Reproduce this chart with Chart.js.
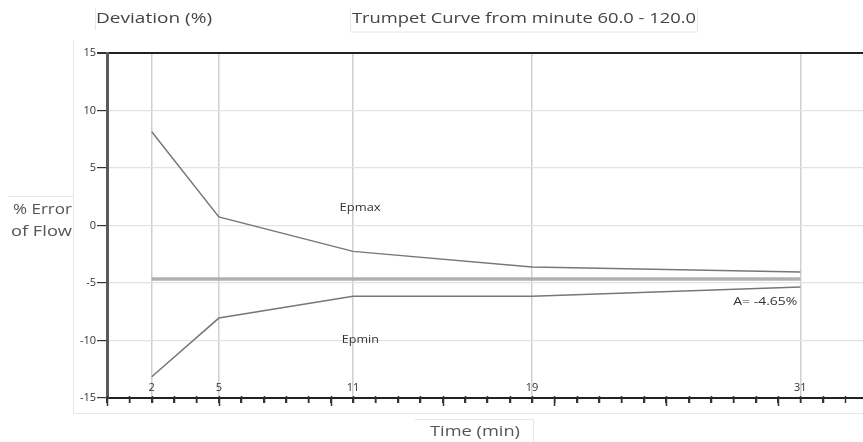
<!DOCTYPE html>
<html>
<head>
<meta charset="utf-8">
<script src="https://cdn.jsdelivr.net/npm/chart.js@4.4.0/dist/chart.umd.min.js"></script>
<style>
  html, body { margin: 0; padding: 0; background: #fff; }
  #wrap { width: 863px; height: 442px; position: relative; }
</style>
</head>
<body>
<div id="wrap"><canvas id="trumpet" width="863" height="442"></canvas></div>
<script>
// data
const times = [2, 5, 11, 19, 31];
const epMax = [8.15, 0.75, -2.25, -3.6, -4.05];
const epMin = [-13.15, -8.05, -6.15, -6.15, -5.35];
const avgError = -4.65;
const yTicks = [-15, -10, -5, 0, 5, 10, 15];

const FONT = "'Open Sans', 'DejaVu Sans', sans-serif";

function pts(xs, ys) {
    return xs.map((x, i) => ({ x: x, y: ys[i] }));
}

// draws text squeezed to a given width (reference font is a condensed one)
function fitText(ctx, txt, left, midY, width, size, color) {
    ctx.save();
    ctx.font = size + 'px ' + FONT;
    ctx.fillStyle = color || '#444';
    ctx.textBaseline = 'middle';
    ctx.textAlign = 'left';
    const w = ctx.measureText(txt).width;
    ctx.translate(left, midY);
    ctx.scale(width / w, 1);
    ctx.fillText(txt, 0, 0);
    ctx.restore();
}

const decorations = {
    id: 'decorations',
    beforeDraw(chart) {
        const ctx = chart.ctx;
        ctx.save();
        ctx.strokeStyle = '#e6e6e6';
        ctx.lineWidth = 1;
        // faint frames from the original widget layout
        ctx.beginPath();
        ctx.moveTo(73.5, 40); ctx.lineTo(73.5, 413.5); ctx.lineTo(863, 413.5);
        ctx.moveTo(8, 196.5); ctx.lineTo(73.5, 196.5);
        ctx.moveTo(95.5, 8); ctx.lineTo(95.5, 30);
        ctx.moveTo(350.5, 8); ctx.lineTo(350.5, 32); ctx.lineTo(697.5, 32); ctx.lineTo(697.5, 8);
        ctx.moveTo(415, 419.5); ctx.lineTo(533.5, 419.5); ctx.lineTo(533.5, 442);
        ctx.stroke();
        ctx.restore();
    },
    afterDraw(chart) {
        const ctx = chart.ctx;
        const xs = chart.scales.x, ys = chart.scales.y;
        fitText(ctx, 'Deviation (%)', 96, 19, 116, 15, '#444');
        fitText(ctx, 'Trumpet Curve from minute 60.0 - 120.0', 352, 19, 344, 15, '#444');
        fitText(ctx, '% Error', 13, 210, 59, 15, '#555');
        fitText(ctx, 'of Flow', 11, 232, 61, 15, '#555');
        fitText(ctx, 'Time (min)', 430, 432, 90, 15, '#555');

        // curve labels, positioned from the data scales
        fitText(ctx, 'Epmax', xs.getPixelForValue(10.4), ys.getPixelForValue(1.5), 41, 10, '#333');
        fitText(ctx, 'Epmin', xs.getPixelForValue(10.5), ys.getPixelForValue(-10), 37, 10, '#333');
        fitText(ctx, 'A= -4.65%', xs.getPixelForValue(28.0), ys.getPixelForValue(-6.7), 64, 10, '#333');

        // small ticks cross the axis slightly; taller ones every 5 minutes
        ctx.save();
        ctx.strokeStyle = '#333';
        ctx.lineWidth = 1.5;
        ctx.beginPath();
        for (let v = 0; v <= xs.max; v += 1) {
            const px = Math.round(xs.getPixelForValue(v)) + 0.5;
            ctx.moveTo(px, ys.bottom - 2);
            ctx.lineTo(px, ys.bottom + (v % 5 === 0 ? 8 : 5));
        }
        ctx.stroke();
        ctx.restore();
    }
};

new Chart(document.getElementById('trumpet'), {
    type: 'line',
    data: {
        datasets: [
            {
                label: 'A',
                data: [{ x: times[0], y: avgError }, { x: times[times.length - 1], y: avgError }],
                borderColor: '#b0b0b0',
                borderWidth: 3.5
            },
            {
                label: 'Epmax',
                data: pts(times, epMax),
                borderColor: '#777',
                borderWidth: 1.5
            },
            {
                label: 'Epmin',
                data: pts(times, epMin),
                borderColor: '#777',
                borderWidth: 1.5
            }
        ]
    },
    options: {
        responsive: false,
        animation: false,
        events: [],
        elements: { point: { radius: 0 }, line: { tension: 0 } },
        layout: { padding: { left: 67, right: 0, top: 53, bottom: 24 } },
        plugins: {
            legend: { display: false },
            tooltip: { enabled: false },
            title: { display: false }
        },
        scales: {
            x: {
                type: 'linear',
                min: 0,
                max: 33.8,
                afterFit: s => { s.height = 20; },
                afterBuildTicks: s => {
                    s.ticks = s.ticks.filter(t => Number.isInteger(t.value));
                },
                border: { display: true, color: '#222', width: 2 },
                grid: {
                    color: c => times.includes(c.tick && c.tick.value) ? '#cfcfcf' : 'rgba(0,0,0,0)',
                    lineWidth: 1.5,
                    tickColor: '#333',
                    tickLength: 5,
                    drawTicks: true
                },
                ticks: {
                    stepSize: 1,
                    autoSkip: false,
                    maxRotation: 0,
                    mirror: true,
                    padding: 4,
                    color: '#333',
                    font: { family: FONT, size: 11 },
                    callback: v => times.includes(v) ? String(v) : ''
                }
            },
            y: {
                type: 'linear',
                min: -15,
                max: 15,
                afterFit: s => { s.width = 40; },
                afterBuildTicks: s => {
                    s.ticks = yTicks.map(v => ({ value: v }));
                },
                border: { display: true, color: '#5a5a5a', width: 3 },
                grid: {
                    color: c => {
                        const v = c.tick && c.tick.value;
                        if (v === 15) return '#222';
                        if (v === -15) return 'rgba(0,0,0,0)';
                        return '#e2e2e2';
                    },
                    lineWidth: c => (c.tick && c.tick.value === 15) ? 2 : 1.2,
                    tickColor: '#333',
                    tickLength: 10
                },
                ticks: {
                    padding: 1,
                    color: '#333',
                    font: { family: FONT, size: 11 }
                }
            }
        }
    },
    plugins: [decorations]
});
</script>
</body>
</html>
